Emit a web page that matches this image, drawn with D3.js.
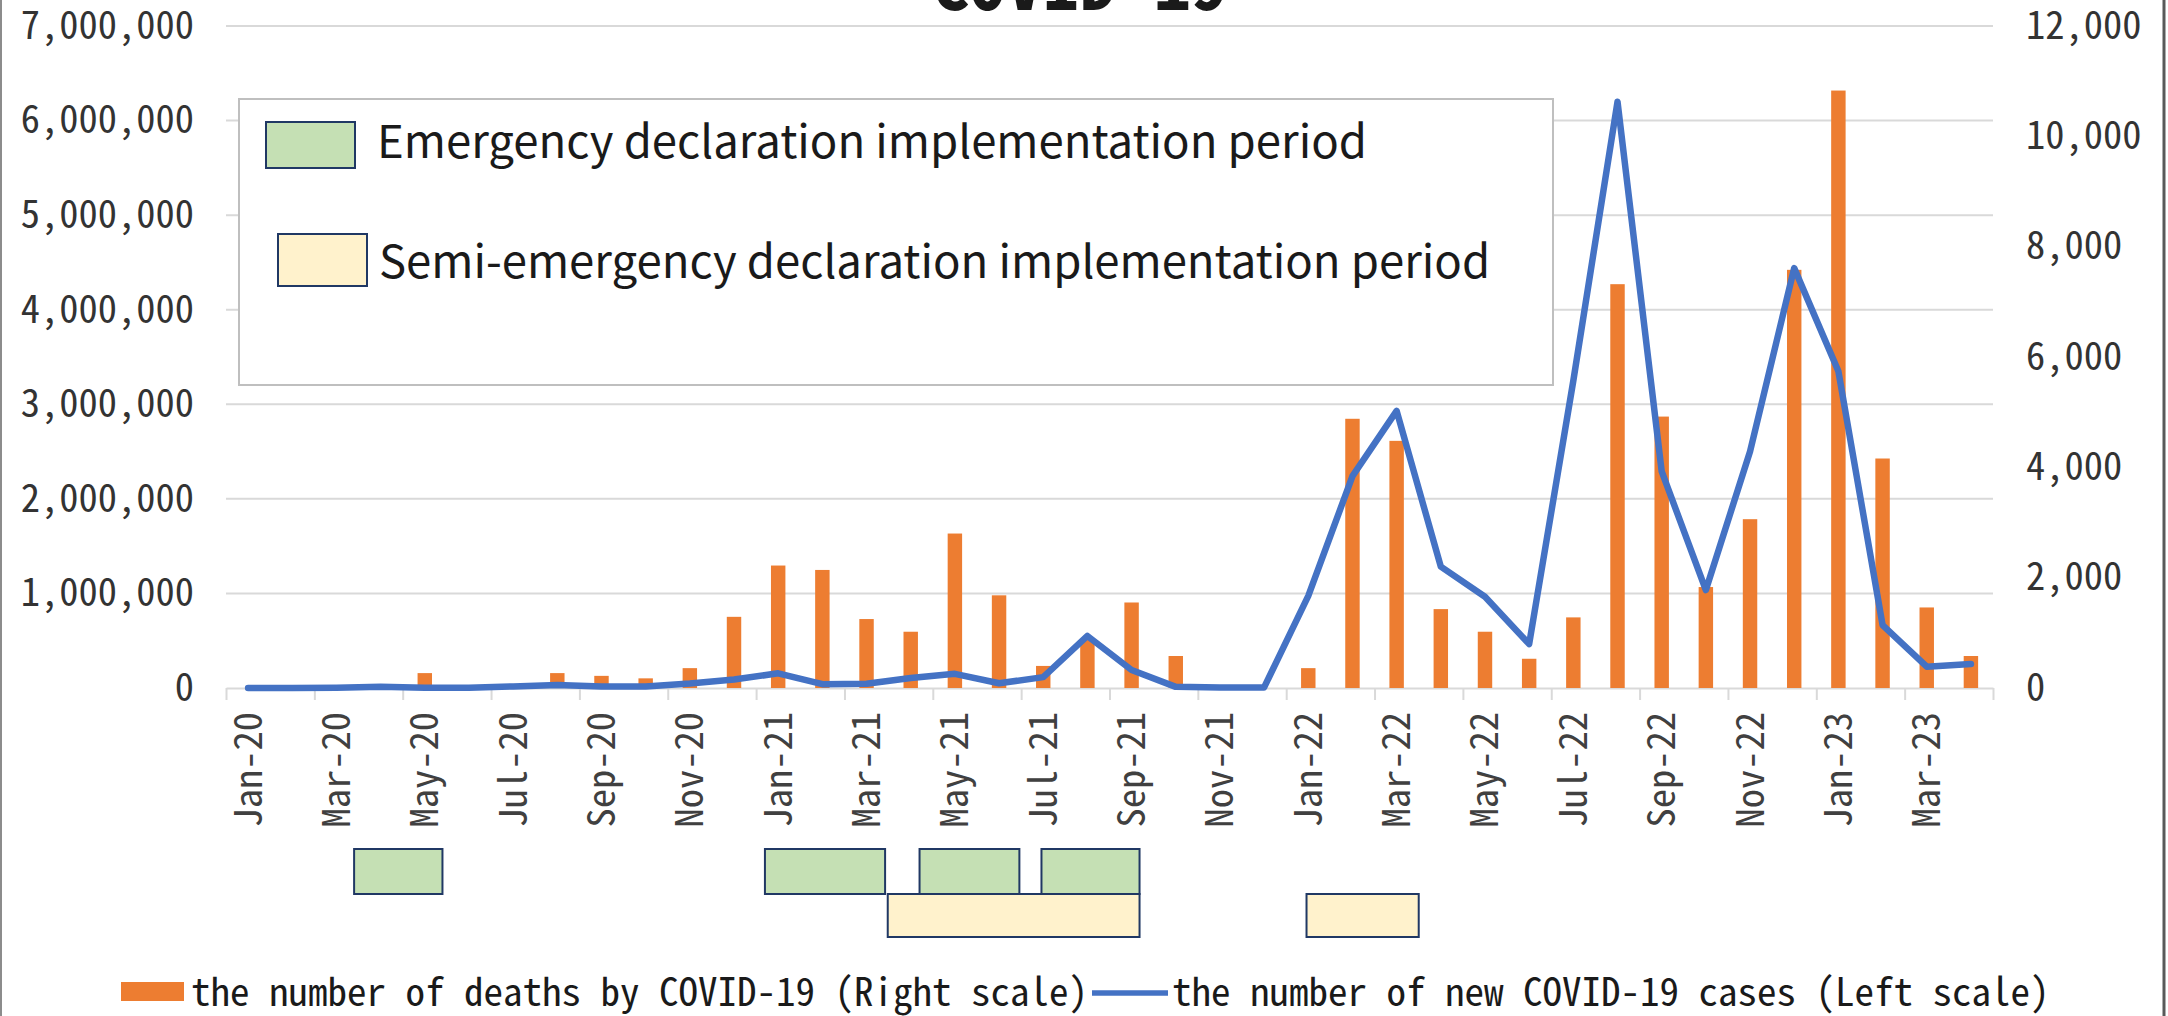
<!DOCTYPE html>
<html>
<head>
<meta charset="utf-8">
<script src="https://cdn.jsdelivr.net/npm/d3@7"></script>
<style>
  html, body { margin: 0; padding: 0; background: #fff; }
  svg { display: block; }
</style>
</head>
<body>
<svg id="chart" width="2168" height="1016"></svg>
<script>
// monthly categories Jan-20 .. Apr-23
const months = [
  'Jan-20','Feb-20','Mar-20','Apr-20','May-20','Jun-20','Jul-20','Aug-20','Sep-20','Oct-20','Nov-20','Dec-20',
  'Jan-21','Feb-21','Mar-21','Apr-21','May-21','Jun-21','Jul-21','Aug-21','Sep-21','Oct-21','Nov-21','Dec-21',
  'Jan-22','Feb-22','Mar-22','Apr-22','May-22','Jun-22','Jul-22','Aug-22','Sep-22','Oct-22','Nov-22','Dec-22',
  'Jan-23','Feb-23','Mar-23','Apr-23'
];

// new cases (left scale)
const newCases = [
  10, 200, 1800, 12000, 2500, 1700, 17000, 32000, 15000, 17000, 47000, 90000,
  155000, 40000, 45000, 105000, 150000, 50000, 115000, 550000, 190000, 12000, 4500, 6000,
  975000, 2240000, 2930000, 1283000, 965000, 465000, 3250000, 6200000, 2290000, 1036000, 2500000, 4440000,
  3350000, 666000, 225000, 254000
];

// deaths (right scale)
const deaths = [
  0, 0, 0, 0, 270, 0, 0, 270, 220, 175, 360, 1290,
  2220, 2140, 1250, 1020, 2800, 1680, 400, 880, 1550, 580, 0, 0,
  360, 4880, 4480, 1430, 1020, 530, 1280, 7320, 4920, 1830, 3060, 7580,
  10830, 4160, 1460, 580
];

// declaration periods, in month positions (0 = start of Jan-20)
const emergencyPeriods = [[2.9, 4.9], [12.2, 14.92], [15.7, 17.96], [18.46, 20.68]];
const semiPeriods = [[14.98, 20.68], [24.46, 27.0]];

const leftTicks = [0, 1000000, 2000000, 3000000, 4000000, 5000000, 6000000, 7000000];
const rightTicks = [0, 2000, 4000, 6000, 8000, 10000, 12000];

const titleText = 'COVID-19';
const legendTop = ['Emergency declaration implementation period', 'Semi-emergency declaration implementation period'];
const legendBottom = ['the number of deaths by COVID-19 (Right scale)', 'the number of new COVID-19 cases (Left scale)'];

const ORANGE = '#ed7d31', BLUE = '#4472c4', GREEN = '#c5e0b4', YELLOW = '#fff2cc', NAVY = '#203864';
const GRID = '#d9d9d9';
const MONO = '"Noto Sans Mono CJK JP", "DejaVu Sans Mono", monospace';
const SANS = '"Noto Sans CJK JP", "Noto Sans", sans-serif';

const svg = d3.select('#chart');
const fmt = d3.format(',');

// plot area
const x0 = 226, x1 = 1993, yBottom = 688, yTop = 26;

const x = d3.scaleBand().domain(months).range([x0, x1]).padding(0);
const xPos = d3.scaleLinear().domain([0, months.length]).range([x0, x1]);
const yL = d3.scaleLinear().domain([0, 7000000]).range([yBottom, yTop]);
const yR = d3.scaleLinear().domain([0, 12000]).range([yBottom, yTop]);

// outer frame edges
svg.append('line').attr('x1', 1).attr('x2', 1).attr('y1', 0).attr('y2', 1016)
  .attr('stroke', '#8c8c8c').attr('stroke-width', 2);
svg.append('line').attr('x1', 2164).attr('x2', 2164).attr('y1', 0).attr('y2', 1016)
  .attr('stroke', '#595959').attr('stroke-width', 3);

// title (clipped at top, as in the source)
svg.append('text').attr('x', 1080).attr('y', 10)
  .attr('text-anchor', 'middle').attr('font-family', MONO).attr('font-weight', 'bold')
  .attr('font-size', 74).attr('fill', '#1a1a1a').text(titleText);

// gridlines
svg.append('g').selectAll('line').data(leftTicks.filter(d => d > 0)).join('line')
  .attr('x1', x0).attr('x2', x1)
  .attr('y1', d => yL(d)).attr('y2', d => yL(d))
  .attr('stroke', GRID).attr('stroke-width', 2);

// x axis line + ticks every 2 months
const xAxis = d3.axisBottom(xPos)
  .tickValues(d3.range(0, months.length + 1, 2))
  .tickSize(12).tickSizeOuter(0).tickFormat('');
const gx = svg.append('g').attr('transform', `translate(0,${yBottom})`).call(xAxis);
gx.select('.domain').attr('stroke', GRID).attr('stroke-width', 2);
gx.selectAll('.tick line').attr('stroke', GRID).attr('stroke-width', 2);

// x labels, rotated
svg.append('g').selectAll('text')
  .data(months.filter((d, i) => i % 2 === 0)).join('text')
  .attr('transform', d => `translate(${x(d) + x.bandwidth() / 2},712) rotate(-90)`)
  .attr('text-anchor', 'end').attr('dy', '0.35em')
  .attr('font-family', MONO).attr('font-size', 38.5).attr('fill', '#404040')
  .text(d => d);

// left axis labels
const gl = svg.append('g').attr('transform', `translate(${x0},0)`)
  .call(d3.axisLeft(yL).tickValues(leftTicks).tickSize(0).tickPadding(32).tickFormat(fmt));
gl.select('.domain').remove();
gl.selectAll('text').attr('font-family', MONO).attr('font-size', 38.5).attr('fill', '#333');

// right axis labels
const gr = svg.append('g').attr('transform', `translate(${x1},0)`)
  .call(d3.axisRight(yR).tickValues(rightTicks).tickSize(0).tickPadding(33).tickFormat(fmt));
gr.select('.domain').remove();
gr.selectAll('text').attr('font-family', MONO).attr('font-size', 38.5).attr('fill', '#333');

// bars (deaths)
const inner = d3.scaleBand().domain([0]).range([0, x.bandwidth()]).paddingInner(0).paddingOuter(1.03);
svg.append('g').selectAll('rect').data(months).join('rect')
  .attr('x', (d) => x(d) + inner(0))
  .attr('width', inner.bandwidth())
  .attr('y', (d, i) => yR(deaths[i]))
  .attr('height', (d, i) => yBottom - yR(deaths[i]))
  .attr('fill', ORANGE);

// line (cases)
const line = d3.line()
  .x((d, i) => x(months[i]) + x.bandwidth() / 2)
  .y(d => yL(d));
svg.append('path').datum(newCases)
  .attr('d', line).attr('fill', 'none')
  .attr('stroke', BLUE).attr('stroke-width', 6.5)
  .attr('stroke-linejoin', 'round').attr('stroke-linecap', 'round');

// legend box for declaration periods
const lg = svg.append('g');
lg.append('rect').attr('x', 239).attr('y', 99).attr('width', 1314).attr('height', 286)
  .attr('fill', '#fff').attr('stroke', '#bfbfbf').attr('stroke-width', 2);
lg.append('rect').attr('x', 266).attr('y', 122).attr('width', 89).attr('height', 46)
  .attr('fill', GREEN).attr('stroke', NAVY).attr('stroke-width', 2);
lg.append('rect').attr('x', 278).attr('y', 234).attr('width', 89).attr('height', 52)
  .attr('fill', YELLOW).attr('stroke', NAVY).attr('stroke-width', 2);
lg.append('text').attr('x', 377).attr('y', 158)
  .attr('font-family', SANS).attr('font-size', 45.5).attr('fill', '#1a1a1a').text(legendTop[0]);
lg.append('text').attr('x', 379).attr('y', 278)
  .attr('font-family', SANS).attr('font-size', 45.5).attr('fill', '#1a1a1a').text(legendTop[1]);

// declaration period bars under the axis
const periods = svg.append('g');
periods.selectAll('rect.em').data(emergencyPeriods).join('rect').attr('class', 'em')
  .attr('x', d => xPos(d[0])).attr('width', d => xPos(d[1]) - xPos(d[0]))
  .attr('y', 849).attr('height', 45)
  .attr('fill', GREEN).attr('stroke', NAVY).attr('stroke-width', 2);
periods.selectAll('rect.semi').data(semiPeriods).join('rect').attr('class', 'semi')
  .attr('x', d => xPos(d[0])).attr('width', d => xPos(d[1]) - xPos(d[0]))
  .attr('y', 894).attr('height', 43)
  .attr('fill', YELLOW).attr('stroke', NAVY).attr('stroke-width', 2);

// series legend at bottom
const bl = svg.append('g');
bl.append('rect').attr('x', 121).attr('y', 982).attr('width', 63).attr('height', 19).attr('fill', ORANGE);
bl.append('text').attr('x', 191).attr('y', 1006)
  .attr('font-family', MONO).attr('font-size', 39).attr('fill', '#1a1a1a').text(legendBottom[0]);
bl.append('line').attr('x1', 1092).attr('x2', 1168).attr('y1', 993).attr('y2', 993)
  .attr('stroke', BLUE).attr('stroke-width', 5.5);
bl.append('text').attr('x', 1172).attr('y', 1006)
  .attr('font-family', MONO).attr('font-size', 39).attr('fill', '#1a1a1a').text(legendBottom[1]);
</script>
</body>
</html>
